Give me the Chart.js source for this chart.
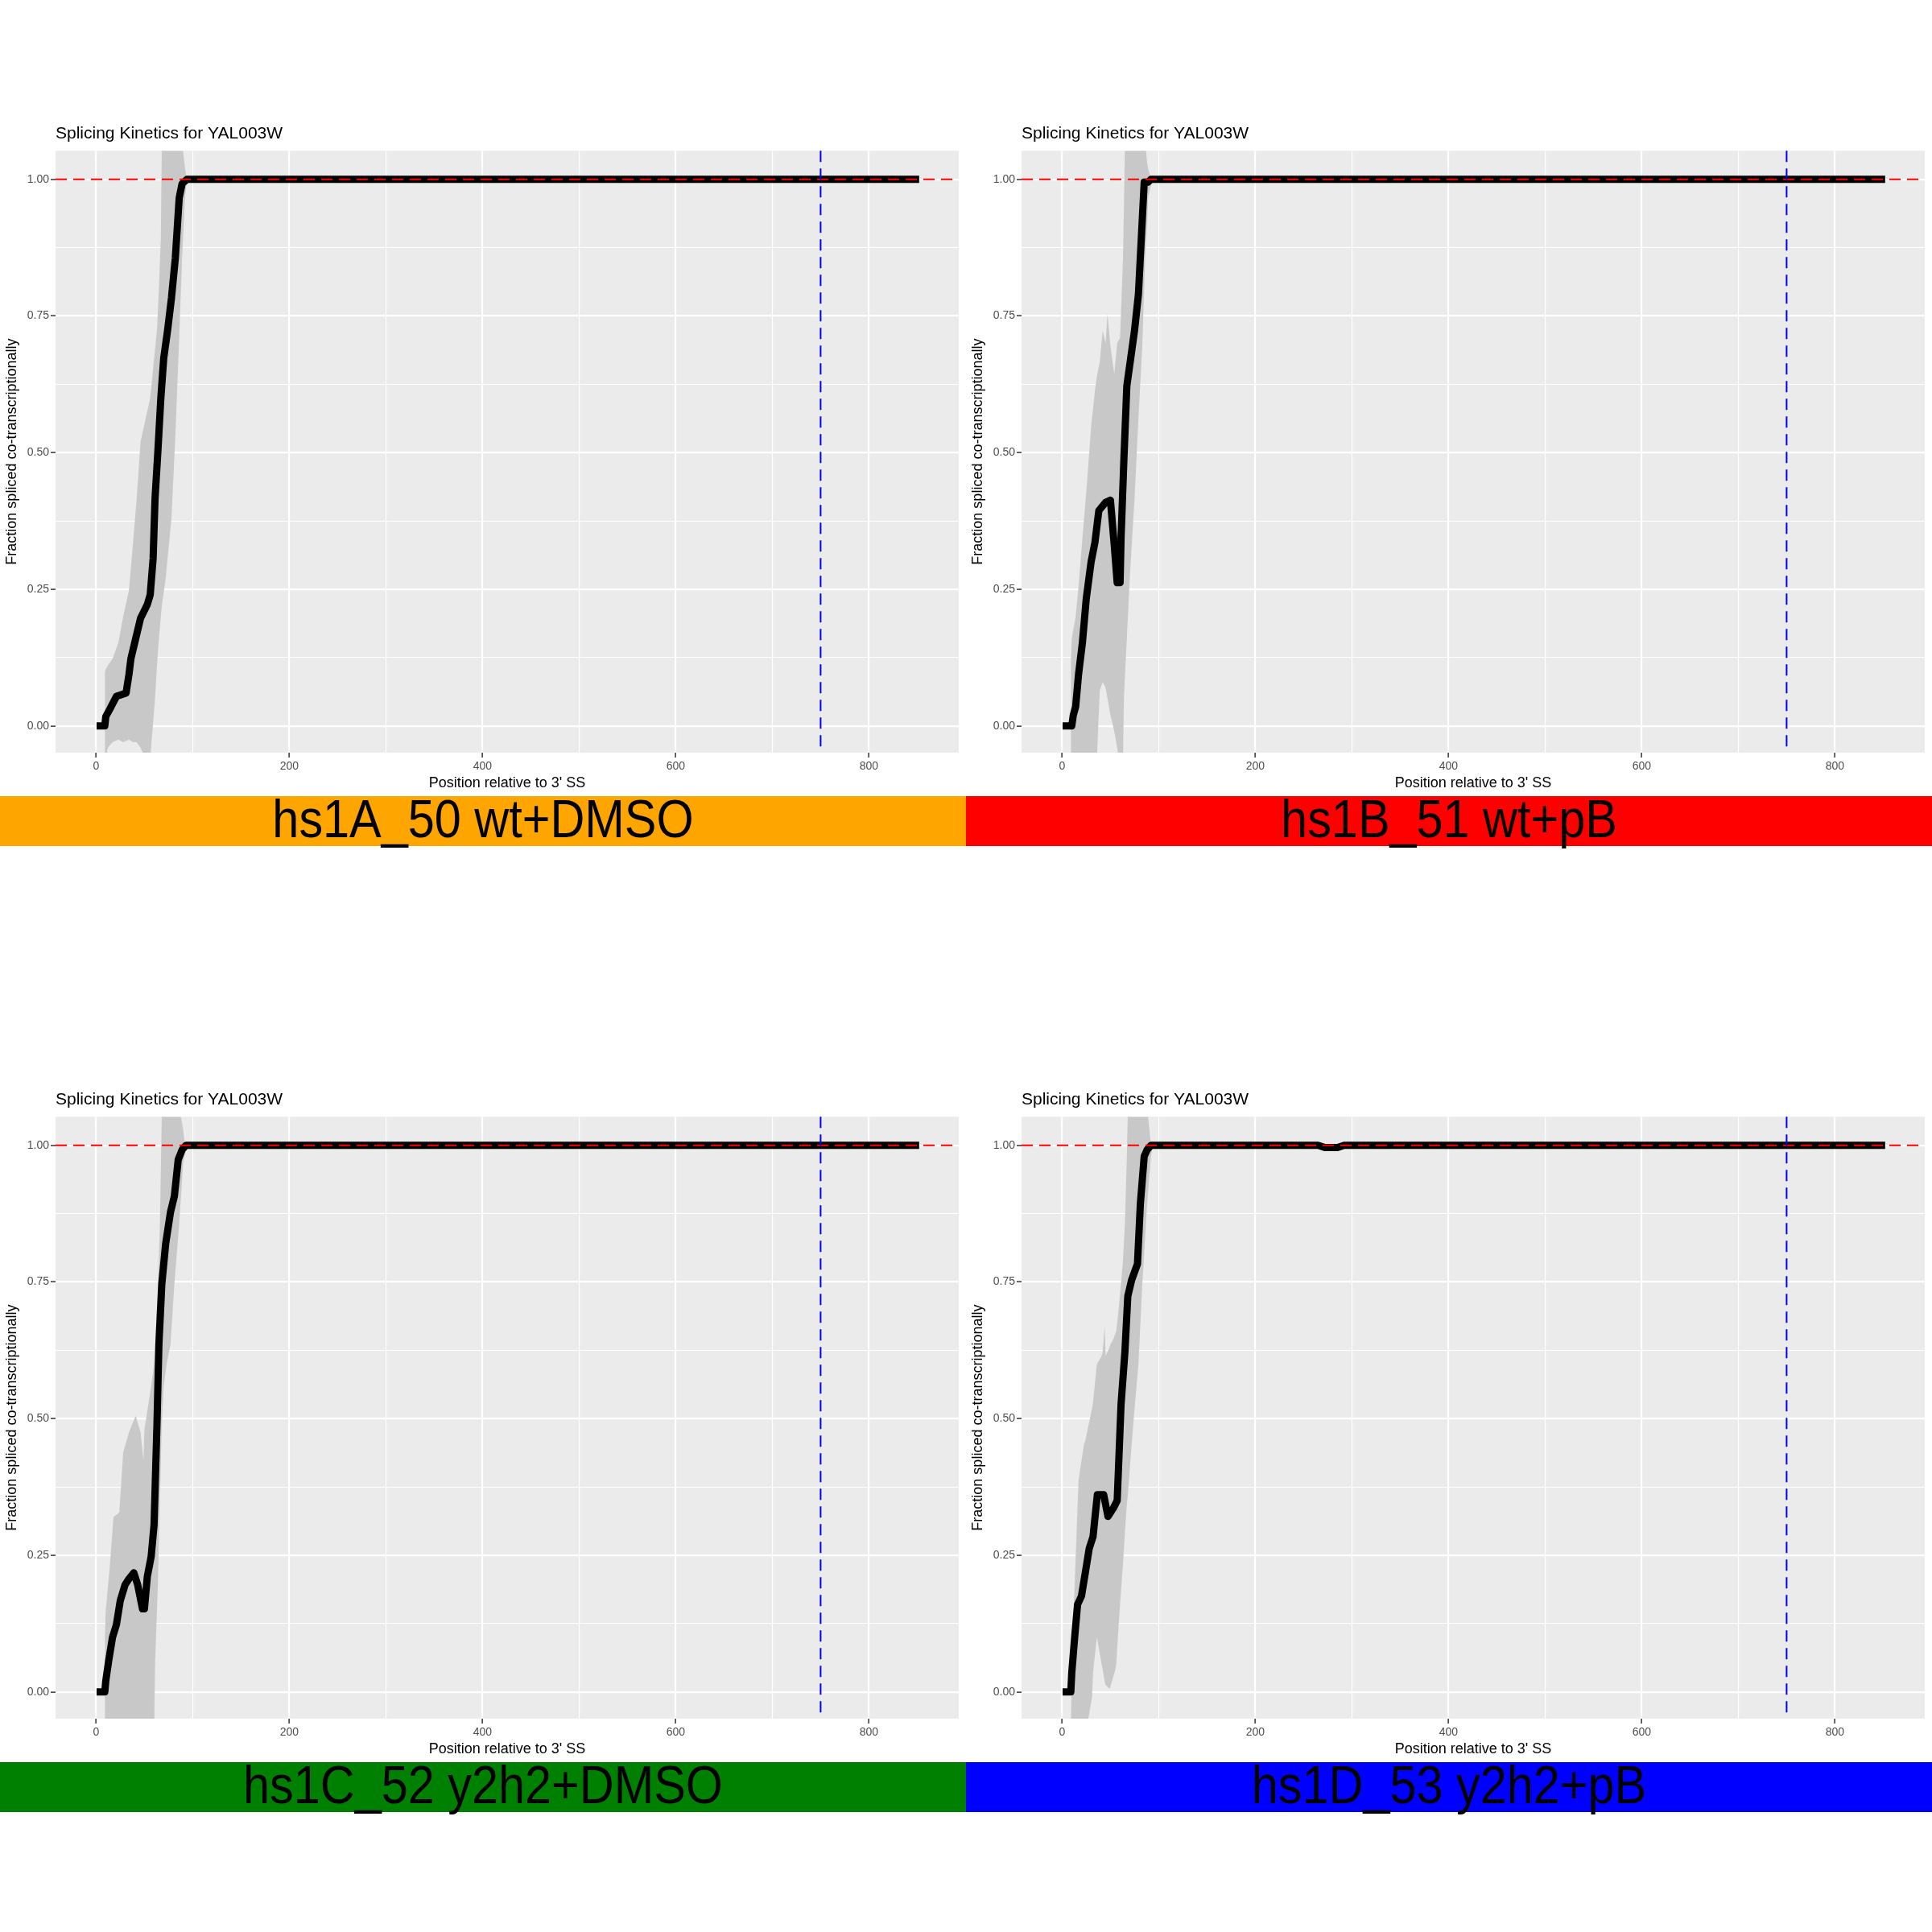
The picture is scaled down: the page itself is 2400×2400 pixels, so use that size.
<!DOCTYPE html>
<html lang="en">
  <head>
    <meta charset="utf-8" />
    <title>Splicing Kinetics for YAL003W</title>
    <style>
      * {
        margin: 0;
        padding: 0;
      }
      body {
        width: 2400px;
        height: 2400px;
        background: #fff;
        position: relative;
        overflow: hidden;
        font-family: "Liberation Sans", Arial, sans-serif;
      }
      .cell {
        position: absolute;
        width: 1200px;
        height: 1200px;
      }
      .cell canvas {
        position: absolute;
        left: 0;
        top: 140px;
      }
      .banner {
        position: absolute;
        left: 0;
        top: 989px;
        width: 1200px;
        height: 62px;
        text-align: center;
        color: #000;
        white-space: nowrap;
      }
      .banner span {
        position: absolute;
        left: 0;
        width: 1200px;
        top: -2px;
        font-size: 66px;
        line-height: 61px;
        transform: scaleX(0.9);
      }
    </style>
  </head>
  <body>
    <script src="https://cdn.jsdelivr.net/npm/chart.js@4.4.1/dist/chart.umd.min.js"></script>

    <script>
      // labels
      const panelNames = ["hs1A_50 wt+DMSO", "hs1B_51 wt+pB", "hs1C_52 y2h2+DMSO", "hs1D_53 y2h2+pB"];
      const plotTitle = "Splicing Kinetics for YAL003W";
      const xAxisTitle = "Position relative to 3' SS";
      const yAxisTitle = "Fraction spliced co-transcriptionally";

      // axis ticks (minor ones get gridlines only)
      const xTicks = [0, 100, 200, 300, 400, 500, 600, 700, 800];
      const xMajor = [0, 200, 400, 600, 800];
      const yTicks = [0, 0.125, 0.25, 0.375, 0.5, 0.625, 0.75, 0.875, 1];
      const yMajor = [0, 0.25, 0.5, 0.75, 1];

      // reference lines
      const plateauLevel = 1;
      const markerPosition = 750;

      // hs1A_50 wt+DMSO
      const lineXA = [0.5, 9, 10, 14, 21, 31, 34, 36, 41, 46, 53, 56, 59, 61, 64, 67, 70, 74, 78, 82, 86, 89, 94, 200, 300, 400, 500, 600, 700, 800, 852];
      const lineYA = [0, 0, 0.017, 0.03, 0.054, 0.06, 0.094, 0.123, 0.16, 0.197, 0.222, 0.24, 0.306, 0.416, 0.504, 0.6, 0.673, 0.724, 0.783, 0.856, 0.966, 0.992, 1, 1, 1, 1, 1, 1, 1, 1, 1];
      const ribXA = [9, 12, 17, 23, 28, 34, 38, 42, 46, 51, 56, 61, 63, 65, 67, 68, 72, 78, 82, 86, 89, 92, 94, 852];
      const ribHiA = [0.1, 0.11, 0.123, 0.152, 0.2, 0.248, 0.33, 0.416, 0.52, 0.56, 0.6, 0.69, 0.724, 0.8, 0.893, 1.06, 1.07, 1.07, 1.07, 1.07, 1.07, 1.02, 1, 1];
      const ribLoA = [-0.07, -0.04, -0.03, -0.025, -0.03, -0.025, -0.03, -0.03, -0.04, -0.06, -0.06, 0.05, 0.11, 0.16, 0.2, 0.22, 0.27, 0.38, 0.53, 0.71, 0.856, 0.966, 1, 1];

      // hs1B_51 wt+pB
      const lineXB = [0.5, 10, 11.6, 14, 17, 21, 25, 30, 34, 38, 45, 50, 54, 57, 60, 61, 64, 67, 70, 75, 79, 82, 85, 89, 92, 852];
      const lineYB = [0, 0, 0.02, 0.035, 0.094, 0.152, 0.233, 0.3, 0.336, 0.394, 0.409, 0.413, 0.33, 0.262, 0.262, 0.343, 0.49, 0.622, 0.66, 0.724, 0.79, 0.893, 0.995, 0.995, 1, 1];
      const ribXB = [9, 10, 14, 17, 21, 26, 30, 34, 36, 39, 42, 45, 47, 50, 54, 57, 60, 63, 64, 65, 67, 70, 75, 79, 83, 86, 88, 89, 92, 94, 852];
      const ribHiB = [0.12, 0.16, 0.2, 0.255, 0.343, 0.45, 0.548, 0.614, 0.64, 0.666, 0.724, 0.7, 0.754, 0.695, 0.644, 0.7, 0.71, 0.856, 0.95, 1.06, 1.07, 1.07, 1.07, 1.07, 1.07, 1.07, 1.03, 1.02, 1, 1, 1];
      const ribLoB = [-0.08, -0.08, -0.08, -0.08, -0.08, -0.08, -0.08, -0.08, -0.06, 0.065, 0.08, 0.07, 0.05, 0.02, -0.01, -0.04, -0.07, -0.06, 0.05, 0.09, 0.16, 0.27, 0.416, 0.563, 0.695, 0.856, 0.92, 0.966, 0.99, 1, 1];

      // hs1C_52 y2h2+DMSO
      const lineXC = [0.5, 9, 10, 13, 17, 21, 25, 30, 34, 39, 43, 48, 50, 53, 57, 60, 63, 65, 68, 72, 77, 81, 85, 89, 93, 852];
      const lineYC = [0, 0, 0.02, 0.057, 0.1, 0.123, 0.167, 0.196, 0.207, 0.218, 0.196, 0.152, 0.152, 0.211, 0.248, 0.306, 0.49, 0.636, 0.746, 0.82, 0.878, 0.907, 0.974, 0.992, 1, 1];
      const ribXC = [9, 10, 14, 18, 24, 28, 34, 39, 41, 46, 49, 50, 56, 60, 61, 64, 66, 68, 70, 73, 77, 81, 86, 90, 92, 94, 852];
      const ribHiC = [0.1, 0.15, 0.226, 0.32, 0.328, 0.438, 0.475, 0.497, 0.505, 0.475, 0.424, 0.48, 0.548, 0.6, 0.63, 0.746, 0.85, 1.06, 1.07, 1.07, 1.07, 1.07, 1.07, 1.03, 1, 1, 1];
      const ribLoC = [-0.08, -0.08, -0.08, -0.08, -0.08, -0.08, -0.08, -0.08, -0.08, -0.08, -0.08, -0.08, -0.08, -0.08, 0.05, 0.2, 0.35, 0.49, 0.56, 0.6, 0.636, 0.746, 0.856, 0.966, 0.985, 1, 1];

      // hs1D_53 y2h2+pB
      const lineXD = [0.5, 9, 10, 13, 16, 20, 24, 28, 32, 35, 36.5, 43, 47.5, 53, 57, 58.5, 61, 65, 68, 72, 78, 81, 85, 88, 92, 265, 272, 285, 292, 852];
      const lineYD = [0, 0, 0.035, 0.1, 0.16, 0.175, 0.218, 0.262, 0.284, 0.336, 0.361, 0.361, 0.321, 0.336, 0.35, 0.416, 0.526, 0.622, 0.724, 0.754, 0.783, 0.893, 0.98, 0.992, 1, 1, 0.996, 0.996, 1, 1];
      const ribXD = [9, 12, 17, 22.6, 24, 31, 32, 36, 41, 42, 44, 45, 49, 50, 53, 55, 56, 58.5, 62, 63, 65, 67, 68, 71, 75, 79, 83, 88, 92, 94, 852];
      const ribHiD = [-0.05, 0.15, 0.387, 0.453, 0.46, 0.519, 0.53, 0.6, 0.615, 0.622, 0.67, 0.615, 0.63, 0.636, 0.645, 0.655, 0.66, 0.7, 0.768, 0.79, 0.856, 0.98, 1.06, 1.07, 1.07, 1.07, 1.07, 1.07, 1, 1, 1];
      const ribLoD = [-0.08, -0.08, -0.08, -0.08, -0.08, -0.01, 0.035, 0.1, 0.05, 0.04, 0.02, 0.013, 0.006, 0.01, 0.028, 0.04, 0.05, 0.123, 0.21, 0.233, 0.29, 0.343, 0.36, 0.43, 0.519, 0.6, 0.746, 0.893, 0.98, 1, 1];

      const bannerColors = ["#ffa500", "#ff0000", "#008000", "#0000ff"];

      const panels = [
        { lineX: lineXA, lineY: lineYA, ribX: ribXA, ribHi: ribHiA, ribLo: ribLoA },
        { lineX: lineXB, lineY: lineYB, ribX: ribXB, ribHi: ribHiB, ribLo: ribLoB },
        { lineX: lineXC, lineY: lineYC, ribX: ribXC, ribHi: ribHiC, ribLo: ribLoC },
        { lineX: lineXD, lineY: lineYD, ribX: ribXD, ribHi: ribHiD, ribLo: ribLoD },
      ];

      const toPoints = (xs, ys) => xs.map((x, i) => ({ x: x, y: ys[i] }));

      Chart.defaults.font.family = '"Liberation Sans", Arial, sans-serif';

      // grey panel background like ggplot
      const panelBackground = {
        id: "panelBackground",
        beforeDraw(chart) {
          const { ctx, chartArea: a } = chart;
          ctx.save();
          ctx.fillStyle = "#ebebeb";
          ctx.fillRect(a.left, a.top, a.right - a.left, a.bottom - a.top);
          ctx.restore();
        },
      };

      // dashed hline at plateau and vline at marker
      const referenceLines = {
        id: "referenceLines",
        afterDatasetsDraw(chart) {
          const { ctx, chartArea: a, scales } = chart;
          const yPix = scales.y.getPixelForValue(plateauLevel);
          const xPix = scales.x.getPixelForValue(markerPosition);
          ctx.save();
          ctx.lineWidth = 2;
          ctx.setLineDash([14, 8]);
          ctx.strokeStyle = "#ff0000";
          ctx.beginPath();
          ctx.moveTo(a.left, yPix);
          ctx.lineTo(a.right, yPix);
          ctx.stroke();
          ctx.strokeStyle = "#0000ff";
          ctx.beginPath();
          ctx.moveTo(xPix, a.top);
          ctx.lineTo(xPix, a.bottom);
          ctx.stroke();
          ctx.restore();
        },
      };

      function axisGrid(major) {
        return {
          color: "#ffffff",
          lineWidth: (c) => (c.tick && major.includes(c.tick.value) ? 2.2 : 1.1),
          tickColor: (c) => (c.tick && major.includes(c.tick.value) ? "#333333" : "rgba(0,0,0,0)"),
          tickLength: 6,
          tickWidth: 1.5,
        };
      }

      panels.forEach(function (p, i) {
        const cell = document.createElement("div");
        cell.className = "cell";
        cell.style.left = (i % 2) * 1200 + "px";
        cell.style.top = Math.floor(i / 2) * 1200 + "px";

        const canvas = document.createElement("canvas");
        canvas.width = 1200;
        canvas.height = 849;
        cell.appendChild(canvas);

        const banner = document.createElement("div");
        banner.className = "banner";
        banner.style.background = bannerColors[i];
        const label = document.createElement("span");
        label.textContent = panelNames[i];
        banner.appendChild(label);
        cell.appendChild(banner);

        document.body.appendChild(cell);

        new Chart(canvas, {
          type: "line",
          data: {
            datasets: [
              {
                label: "fraction",
                data: toPoints(p.lineX, p.lineY),
                borderColor: "#000000",
                borderWidth: 9,
                borderJoinStyle: "round",
                pointRadius: 0,
                fill: false,
              },
              {
                label: "upper",
                data: toPoints(p.ribX, p.ribHi),
                borderWidth: 0,
                pointRadius: 0,
                fill: "+1",
                backgroundColor: "#c8c8c8",
              },
              {
                label: "lower",
                data: toPoints(p.ribX, p.ribLo),
                borderWidth: 0,
                pointRadius: 0,
                fill: false,
              },
            ],
          },
          options: {
            responsive: false,
            animation: false,
            layout: { padding: { right: 9 } },
            plugins: {
              legend: { display: false },
              tooltip: { enabled: false },
              title: {
                display: true,
                text: plotTitle,
                align: "start",
                fullSize: false,
                color: "#000000",
                font: { size: 21, weight: "normal" },
                padding: { top: 14, bottom: 8 },
              },
            },
            scales: {
              x: {
                type: "linear",
                min: -42,
                max: 893,
                afterBuildTicks: (s) => {
                  s.ticks = xTicks.map((v) => ({ value: v }));
                },
                afterFit: (s) => {
                  s.height = 54;
                },
                grid: axisGrid(xMajor),
                border: { display: false },
                ticks: {
                  autoSkip: false,
                  maxRotation: 0,
                  padding: 3,
                  color: "#4d4d4d",
                  font: { size: 14 },
                  callback: (v) => (xMajor.includes(v) ? String(v) : ""),
                },
                title: {
                  display: true,
                  text: xAxisTitle,
                  color: "#000000",
                  font: { size: 18 },
                  padding: { top: 0, bottom: 5 },
                },
              },
              y: {
                type: "linear",
                min: -0.049,
                max: 1.0525,
                afterBuildTicks: (s) => {
                  s.ticks = yTicks.map((v) => ({ value: v }));
                },
                afterFit: (s) => {
                  s.width = 69;
                },
                grid: axisGrid(yMajor),
                border: { display: false },
                ticks: {
                  autoSkip: false,
                  padding: 2,
                  color: "#4d4d4d",
                  font: { size: 14 },
                  callback: (v) => (yMajor.includes(v) ? v.toFixed(2) : ""),
                },
                title: {
                  display: true,
                  text: yAxisTitle,
                  color: "#000000",
                  font: { size: 18 },
                  padding: { top: 4, bottom: 0 },
                },
              },
            },
          },
          plugins: [panelBackground, referenceLines],
        });
      });
    </script>
  </body>
</html>
